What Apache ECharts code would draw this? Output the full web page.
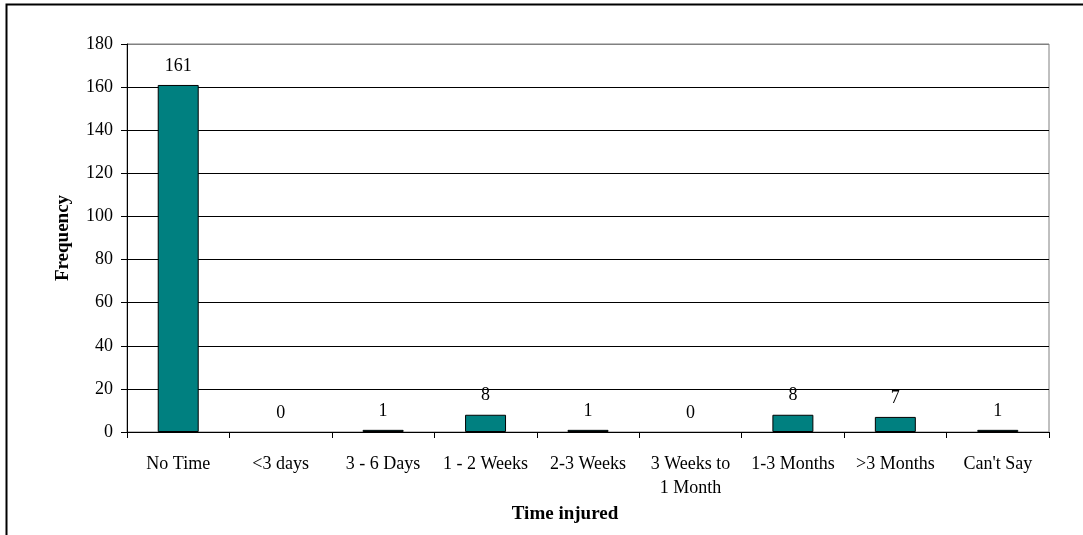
<!DOCTYPE html>
<html>
<head>
<meta charset="utf-8">
<title>Time injured</title>
<script src="https://cdn.jsdelivr.net/npm/echarts@6/dist/echarts.min.js"></script>
<style>
  html, body { margin: 0; padding: 0; background: #fff; }
  #chart { width: 1083px; height: 535px; }
</style>
</head>
<body>
<div id="chart"></div>
<script>
// Injury duration categories and how many respondents fell in each
const categories = ['No Time', '<3 days', '3 - 6 Days', '1 - 2 Weeks', '2-3 Weeks',
  '3 Weeks to\n1 Month', '1-3 Months', '>3 Months', "Can't Say"];
const frequency = [161, 0, 1, 8, 1, 0, 8, 7, 1];

const yMin = 0;
const yMax = 180;
const yStep = 20;

const serif = "'Liberation Serif', 'Times New Roman', serif";
const gridColors = ['#000', '#000', '#000', '#000', '#000', '#000', '#000', '#000', '#000', '#808080'];

// empty categories get no outline, so nothing but their "0" label shows
const barData = frequency.map(v => (v === 0 ? { value: v, itemStyle: { borderWidth: 0 } } : v));

const chart = echarts.init(document.getElementById('chart'), null, { renderer: 'canvas' });

chart.setOption({
  animation: false,
  backgroundColor: '#fff',
  textStyle: { fontFamily: serif, color: '#000' },
  graphic: [{
    type: 'rect',
    shape: { x: 6.5, y: 4.5, width: 1200, height: 700 },
    style: { fill: 'none', stroke: '#000', lineWidth: 2 },
    silent: true,
    z: -10
  }],
  grid: {
    left: 127, right: 34, top: 44, bottom: 103,
    show: true, borderColor: '#808080', borderWidth: 1, backgroundColor: '#fff'
  },
  xAxis: {
    type: 'category',
    data: categories,
    name: 'Time injured',
    nameLocation: 'middle',
    nameGap: 70,
    nameTextStyle: { fontFamily: serif, fontSize: 19, fontWeight: 'bold', color: '#000', padding: [0, 46, 0, 0] },
    axisLine: { lineStyle: { color: '#000', width: 1 } },
    axisTick: { show: true, alignWithLabel: false, length: 6, lineStyle: { color: '#000' } },
    axisLabel: { fontFamily: serif, fontSize: 18, color: '#000', margin: 20, lineHeight: 24, interval: 0 },
    splitLine: { show: false }
  },
  yAxis: {
    type: 'value',
    min: yMin, max: yMax, interval: yStep,
    name: 'Frequency',
    nameLocation: 'middle',
    nameGap: 54,
    nameTextStyle: { fontFamily: serif, fontSize: 19, fontWeight: 'bold', color: '#000' },
    axisLine: { show: true, lineStyle: { color: '#000', width: 1 } },
    axisTick: { show: true, inside: false, length: 6, lineStyle: { color: '#000' } },
    axisLabel: { fontFamily: serif, fontSize: 18, color: '#000', margin: 14 },
    splitLine: { show: true, lineStyle: { color: gridColors, width: 1 } }
  },
  series: [{
    type: 'bar',
    data: barData,
    barWidth: '40%',
    itemStyle: { color: '#008080', borderColor: '#000', borderWidth: 1 },
    label: {
      show: true, position: 'top', distance: 10,
      fontFamily: serif, fontSize: 18, color: '#000'
    }
  }]
});
</script>
</body>
</html>
